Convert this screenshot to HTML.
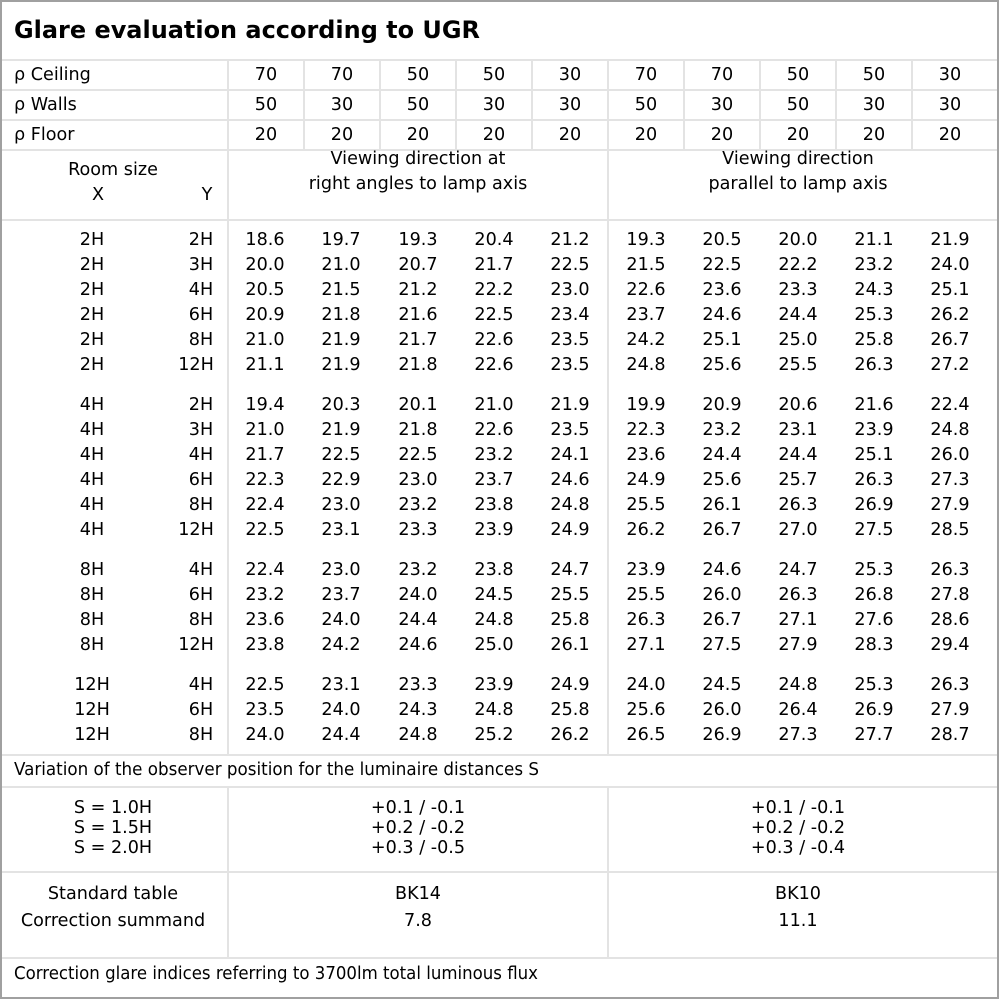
<!DOCTYPE html>
<html><head><meta charset="utf-8"><style>
html,body{margin:0;padding:0;background:#fff}
svg text{font-family:"DejaVu Sans","Liberation Sans",sans-serif;font-size:17.6px;fill:#000}
</style></head><body>
<svg width="1000" height="1000" viewBox="0 0 1000 1000" xmlns="http://www.w3.org/2000/svg">
<rect x="0" y="0" width="1000" height="1000" fill="#fff"/>
<g stroke="#e3e3e3" stroke-width="2" fill="none">
<line x1="1" y1="60" x2="999" y2="60"/>
<line x1="1" y1="90" x2="999" y2="90"/>
<line x1="1" y1="120" x2="999" y2="120"/>
<line x1="1" y1="150" x2="999" y2="150"/>
<line x1="1" y1="220" x2="999" y2="220"/>
<line x1="1" y1="755" x2="999" y2="755"/>
<line x1="1" y1="787" x2="999" y2="787"/>
<line x1="1" y1="872" x2="999" y2="872"/>
<line x1="1" y1="958" x2="999" y2="958"/>
<line x1="228" y1="60" x2="228" y2="755"/>
<line x1="228" y1="787" x2="228" y2="958"/>
<line x1="608" y1="60" x2="608" y2="755"/>
<line x1="608" y1="787" x2="608" y2="958"/>
<line x1="304" y1="60" x2="304" y2="150"/>
<line x1="380" y1="60" x2="380" y2="150"/>
<line x1="456" y1="60" x2="456" y2="150"/>
<line x1="532" y1="60" x2="532" y2="150"/>
<line x1="684" y1="60" x2="684" y2="150"/>
<line x1="760" y1="60" x2="760" y2="150"/>
<line x1="836" y1="60" x2="836" y2="150"/>
<line x1="912" y1="60" x2="912" y2="150"/>
</g>
<rect x="1" y="1" width="997" height="997" fill="none" stroke="#a0a0a0" stroke-width="2"/>
<text x="14" y="38" style="font-size:24px;font-weight:bold" textLength="466" lengthAdjust="spacingAndGlyphs">Glare evaluation according to UGR</text>
<text x="14" y="80">ρ Ceiling</text>
<text x="14" y="110">ρ Walls</text>
<text x="14" y="140">ρ Floor</text>
<g text-anchor="middle">
<text x="266" y="80">70</text><text x="342" y="80">70</text><text x="418" y="80">50</text><text x="494" y="80">50</text><text x="570" y="80">30</text><text x="646" y="80">70</text><text x="722" y="80">70</text><text x="798" y="80">50</text><text x="874" y="80">50</text><text x="950" y="80">30</text>
<text x="266" y="110">50</text><text x="342" y="110">30</text><text x="418" y="110">50</text><text x="494" y="110">30</text><text x="570" y="110">30</text><text x="646" y="110">50</text><text x="722" y="110">30</text><text x="798" y="110">50</text><text x="874" y="110">30</text><text x="950" y="110">30</text>
<text x="266" y="140">20</text><text x="342" y="140">20</text><text x="418" y="140">20</text><text x="494" y="140">20</text><text x="570" y="140">20</text><text x="646" y="140">20</text><text x="722" y="140">20</text><text x="798" y="140">20</text><text x="874" y="140">20</text><text x="950" y="140">20</text>
<text x="113" y="175">Room size</text>
<text x="98" y="200">X</text>
<text x="207" y="200">Y</text>
<text x="418" y="164">Viewing direction at</text>
<text x="418" y="189">right angles to lamp axis</text>
<text x="798" y="164">Viewing direction</text>
<text x="798" y="189">parallel to lamp axis</text>
</g>
<g text-anchor="middle">
<text y="245"><tspan x="92">2H</tspan><tspan x="201">2H</tspan><tspan x="265">18.6</tspan><tspan x="341">19.7</tspan><tspan x="418">19.3</tspan><tspan x="494">20.4</tspan><tspan x="570">21.2</tspan><tspan x="646">19.3</tspan><tspan x="722">20.5</tspan><tspan x="798">20.0</tspan><tspan x="874">21.1</tspan><tspan x="950">21.9</tspan></text>
<text y="270"><tspan x="92">2H</tspan><tspan x="201">3H</tspan><tspan x="265">20.0</tspan><tspan x="341">21.0</tspan><tspan x="418">20.7</tspan><tspan x="494">21.7</tspan><tspan x="570">22.5</tspan><tspan x="646">21.5</tspan><tspan x="722">22.5</tspan><tspan x="798">22.2</tspan><tspan x="874">23.2</tspan><tspan x="950">24.0</tspan></text>
<text y="295"><tspan x="92">2H</tspan><tspan x="201">4H</tspan><tspan x="265">20.5</tspan><tspan x="341">21.5</tspan><tspan x="418">21.2</tspan><tspan x="494">22.2</tspan><tspan x="570">23.0</tspan><tspan x="646">22.6</tspan><tspan x="722">23.6</tspan><tspan x="798">23.3</tspan><tspan x="874">24.3</tspan><tspan x="950">25.1</tspan></text>
<text y="320"><tspan x="92">2H</tspan><tspan x="201">6H</tspan><tspan x="265">20.9</tspan><tspan x="341">21.8</tspan><tspan x="418">21.6</tspan><tspan x="494">22.5</tspan><tspan x="570">23.4</tspan><tspan x="646">23.7</tspan><tspan x="722">24.6</tspan><tspan x="798">24.4</tspan><tspan x="874">25.3</tspan><tspan x="950">26.2</tspan></text>
<text y="345"><tspan x="92">2H</tspan><tspan x="201">8H</tspan><tspan x="265">21.0</tspan><tspan x="341">21.9</tspan><tspan x="418">21.7</tspan><tspan x="494">22.6</tspan><tspan x="570">23.5</tspan><tspan x="646">24.2</tspan><tspan x="722">25.1</tspan><tspan x="798">25.0</tspan><tspan x="874">25.8</tspan><tspan x="950">26.7</tspan></text>
<text y="370"><tspan x="92">2H</tspan><tspan x="196">12H</tspan><tspan x="265">21.1</tspan><tspan x="341">21.9</tspan><tspan x="418">21.8</tspan><tspan x="494">22.6</tspan><tspan x="570">23.5</tspan><tspan x="646">24.8</tspan><tspan x="722">25.6</tspan><tspan x="798">25.5</tspan><tspan x="874">26.3</tspan><tspan x="950">27.2</tspan></text>

<text y="410"><tspan x="92">4H</tspan><tspan x="201">2H</tspan><tspan x="265">19.4</tspan><tspan x="341">20.3</tspan><tspan x="418">20.1</tspan><tspan x="494">21.0</tspan><tspan x="570">21.9</tspan><tspan x="646">19.9</tspan><tspan x="722">20.9</tspan><tspan x="798">20.6</tspan><tspan x="874">21.6</tspan><tspan x="950">22.4</tspan></text>
<text y="435"><tspan x="92">4H</tspan><tspan x="201">3H</tspan><tspan x="265">21.0</tspan><tspan x="341">21.9</tspan><tspan x="418">21.8</tspan><tspan x="494">22.6</tspan><tspan x="570">23.5</tspan><tspan x="646">22.3</tspan><tspan x="722">23.2</tspan><tspan x="798">23.1</tspan><tspan x="874">23.9</tspan><tspan x="950">24.8</tspan></text>
<text y="460"><tspan x="92">4H</tspan><tspan x="201">4H</tspan><tspan x="265">21.7</tspan><tspan x="341">22.5</tspan><tspan x="418">22.5</tspan><tspan x="494">23.2</tspan><tspan x="570">24.1</tspan><tspan x="646">23.6</tspan><tspan x="722">24.4</tspan><tspan x="798">24.4</tspan><tspan x="874">25.1</tspan><tspan x="950">26.0</tspan></text>
<text y="485"><tspan x="92">4H</tspan><tspan x="201">6H</tspan><tspan x="265">22.3</tspan><tspan x="341">22.9</tspan><tspan x="418">23.0</tspan><tspan x="494">23.7</tspan><tspan x="570">24.6</tspan><tspan x="646">24.9</tspan><tspan x="722">25.6</tspan><tspan x="798">25.7</tspan><tspan x="874">26.3</tspan><tspan x="950">27.3</tspan></text>
<text y="510"><tspan x="92">4H</tspan><tspan x="201">8H</tspan><tspan x="265">22.4</tspan><tspan x="341">23.0</tspan><tspan x="418">23.2</tspan><tspan x="494">23.8</tspan><tspan x="570">24.8</tspan><tspan x="646">25.5</tspan><tspan x="722">26.1</tspan><tspan x="798">26.3</tspan><tspan x="874">26.9</tspan><tspan x="950">27.9</tspan></text>
<text y="535"><tspan x="92">4H</tspan><tspan x="196">12H</tspan><tspan x="265">22.5</tspan><tspan x="341">23.1</tspan><tspan x="418">23.3</tspan><tspan x="494">23.9</tspan><tspan x="570">24.9</tspan><tspan x="646">26.2</tspan><tspan x="722">26.7</tspan><tspan x="798">27.0</tspan><tspan x="874">27.5</tspan><tspan x="950">28.5</tspan></text>

<text y="575"><tspan x="92">8H</tspan><tspan x="201">4H</tspan><tspan x="265">22.4</tspan><tspan x="341">23.0</tspan><tspan x="418">23.2</tspan><tspan x="494">23.8</tspan><tspan x="570">24.7</tspan><tspan x="646">23.9</tspan><tspan x="722">24.6</tspan><tspan x="798">24.7</tspan><tspan x="874">25.3</tspan><tspan x="950">26.3</tspan></text>
<text y="600"><tspan x="92">8H</tspan><tspan x="201">6H</tspan><tspan x="265">23.2</tspan><tspan x="341">23.7</tspan><tspan x="418">24.0</tspan><tspan x="494">24.5</tspan><tspan x="570">25.5</tspan><tspan x="646">25.5</tspan><tspan x="722">26.0</tspan><tspan x="798">26.3</tspan><tspan x="874">26.8</tspan><tspan x="950">27.8</tspan></text>
<text y="625"><tspan x="92">8H</tspan><tspan x="201">8H</tspan><tspan x="265">23.6</tspan><tspan x="341">24.0</tspan><tspan x="418">24.4</tspan><tspan x="494">24.8</tspan><tspan x="570">25.8</tspan><tspan x="646">26.3</tspan><tspan x="722">26.7</tspan><tspan x="798">27.1</tspan><tspan x="874">27.6</tspan><tspan x="950">28.6</tspan></text>
<text y="650"><tspan x="92">8H</tspan><tspan x="196">12H</tspan><tspan x="265">23.8</tspan><tspan x="341">24.2</tspan><tspan x="418">24.6</tspan><tspan x="494">25.0</tspan><tspan x="570">26.1</tspan><tspan x="646">27.1</tspan><tspan x="722">27.5</tspan><tspan x="798">27.9</tspan><tspan x="874">28.3</tspan><tspan x="950">29.4</tspan></text>

<text y="690"><tspan x="92">12H</tspan><tspan x="201">4H</tspan><tspan x="265">22.5</tspan><tspan x="341">23.1</tspan><tspan x="418">23.3</tspan><tspan x="494">23.9</tspan><tspan x="570">24.9</tspan><tspan x="646">24.0</tspan><tspan x="722">24.5</tspan><tspan x="798">24.8</tspan><tspan x="874">25.3</tspan><tspan x="950">26.3</tspan></text>
<text y="715"><tspan x="92">12H</tspan><tspan x="201">6H</tspan><tspan x="265">23.5</tspan><tspan x="341">24.0</tspan><tspan x="418">24.3</tspan><tspan x="494">24.8</tspan><tspan x="570">25.8</tspan><tspan x="646">25.6</tspan><tspan x="722">26.0</tspan><tspan x="798">26.4</tspan><tspan x="874">26.9</tspan><tspan x="950">27.9</tspan></text>
<text y="740"><tspan x="92">12H</tspan><tspan x="201">8H</tspan><tspan x="265">24.0</tspan><tspan x="341">24.4</tspan><tspan x="418">24.8</tspan><tspan x="494">25.2</tspan><tspan x="570">26.2</tspan><tspan x="646">26.5</tspan><tspan x="722">26.9</tspan><tspan x="798">27.3</tspan><tspan x="874">27.7</tspan><tspan x="950">28.7</tspan></text>
</g>
<text x="14" y="775" textLength="525" lengthAdjust="spacingAndGlyphs">Variation of the observer position for the luminaire distances S</text>
<g text-anchor="middle">
<text x="113" y="813">S = 1.0H</text>
<text x="113" y="833">S = 1.5H</text>
<text x="113" y="853">S = 2.0H</text>
<text x="418" y="813">+0.1 / -0.1</text>
<text x="418" y="833">+0.2 / -0.2</text>
<text x="418" y="853">+0.3 / -0.5</text>
<text x="798" y="813">+0.1 / -0.1</text>
<text x="798" y="833">+0.2 / -0.2</text>
<text x="798" y="853">+0.3 / -0.4</text>
<text x="113" y="899">Standard table</text>
<text x="113" y="926">Correction summand</text>
<text x="418" y="899">BK14</text>
<text x="418" y="926">7.8</text>
<text x="798" y="899">BK10</text>
<text x="798" y="926">11.1</text>
</g>
<text x="14" y="979" textLength="524" lengthAdjust="spacingAndGlyphs">Correction glare indices referring to 3700lm total luminous flux</text>
</svg>
</body></html>
